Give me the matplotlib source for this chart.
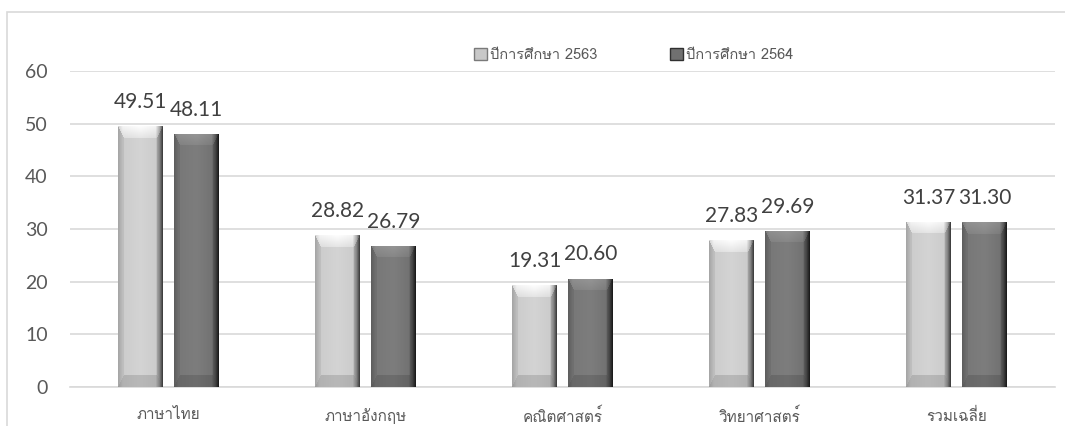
import numpy as np
import matplotlib
matplotlib.use("Agg")
import matplotlib.pyplot as plt
from matplotlib import font_manager, ft2font
from matplotlib.patches import Patch, Rectangle

categories = ["ภาษาไทย", "ภาษาอังกฤษ", "คณิตศาสตร์", "วิทยาศาสตร์", "รวมเฉลี่ย"]
series_names = ["ปีการศึกษา 2563", "ปีการศึกษา 2564"]
scores_2563 = [49.51, 28.82, 19.31, 27.83, 31.37]
scores_2564 = [48.11, 26.79, 20.60, 29.69, 31.30]
yticks = [0, 10, 20, 30, 40, 50, 60]


def find_thai_font():
    # first installed font that has Thai glyphs
    for f in font_manager.fontManager.ttflist:
        try:
            if 0x0E20 in ft2font.FT2Font(f.fname).get_charmap():
                return f.name
        except Exception:
            continue
    return None


thai = find_thai_font()
thai_family = [thai, "DejaVu Sans"] if thai else ["DejaVu Sans"]
num_family = ["Lato", "DejaVu Sans"]

# face gradients (left -> right)
light_profile = ([0, 0.1, 0.5, 0.84, 0.93, 1.0], [0.70, 0.80, 0.83, 0.80, 0.58, 0.28])
dark_profile = ([0, 0.1, 0.5, 0.84, 0.93, 1.0], [0.40, 0.47, 0.49, 0.45, 0.30, 0.12])


def bevel_image(h, w, profile, side=6, top=12):
    yy, xx = np.mgrid[0:h, 0:w].astype(float)
    top = min(top, h / 2)
    dl = (xx + 0.5) / side
    dr = (w - xx - 0.5) / side
    dt = (yy + 0.5) / top
    db = (h - yy - 0.5) / top
    base = np.interp(xx / max(w - 1, 1), profile[0], profile[1])
    mult = np.ones_like(base)
    dmin = np.minimum.reduce([dl, dr, dt, db])
    inside = dmin <= 1
    mult[inside & (dl == dmin)] = 0.93
    mult[inside & (dr == dmin)] = 0.9
    mult[inside & (db == dmin)] = 0.87
    top_mask = inside & (dt == dmin)
    mult[top_mask] = 1.2 - 0.12 * dt[top_mask]
    img = np.clip(base * mult, 0, 1)
    return np.dstack([img, img, img])


fig = plt.figure(figsize=(10.65, 4.26), dpi=100)
fig.subplots_adjust(left=0.0657, right=0.9906, bottom=0.0915, top=0.8333)
ax = fig.add_subplot(111)
ax.set_xlim(-0.5, len(categories) - 0.5)
ax.set_ylim(0, 60)

# outer chart frame
fig.patches.append(Rectangle((0.0066, -0.2), 1.2, 0.9718 + 0.2, transform=fig.transFigure,
                             fill=False, edgecolor="#d9d9d9", linewidth=1.2, zorder=0))

x = np.arange(len(categories))
width = 0.225
offset = 0.142

for vals, shift, profile, col in [(scores_2563, -offset, light_profile, "#c8c8c8"),
                                  (scores_2564, offset, dark_profile, "#777777")]:
    bars = ax.bar(x + shift, vals, width, color=col, zorder=3)
    for b, v in zip(bars, vals):
        x0, x1 = b.get_x(), b.get_x() + b.get_width()
        p0 = ax.transData.transform((x0, 0))
        p1 = ax.transData.transform((x1, v))
        w_px = max(int(round(p1[0] - p0[0])), 2)
        h_px = max(int(round(p1[1] - p0[1])), 2)
        im = ax.imshow(bevel_image(h_px, w_px, profile), extent=(x0, x1, 0, v),
                       aspect="auto", zorder=4, interpolation="nearest")
        im.set_clip_path(b)
        ax.annotate(f"{v:.2f}", (b.get_x() + b.get_width() / 2, v), xytext=(0, 13),
                    textcoords="offset points", ha="center", va="baseline",
                    fontsize=15, color="#404040", family=num_family)

ax.set_xlim(-0.5, len(categories) - 0.5)
ax.set_ylim(0, 60)

ax.set_yticks(yticks)
ax.set_yticklabels([str(t) for t in yticks], fontsize=14, color="#595959", family=num_family)
ax.set_xticks(x)
ax.set_xticklabels(categories, fontsize=11, color="#595959", family=thai_family)
ax.tick_params(axis="y", length=0, pad=16)
ax.tick_params(axis="x", length=0, pad=15)
ax.grid(axis="y", color="#d9d9d9", linewidth=1.2, zorder=0)
ax.set_axisbelow(True)
for s in ["top", "right", "left"]:
    ax.spines[s].set_visible(False)
ax.spines["bottom"].set_color("#d9d9d9")
ax.spines["bottom"].set_linewidth(1.2)

handles = [Patch(facecolor="#c8c8c8", edgecolor="#7a7a7a"),
           Patch(facecolor="#707070", edgecolor="#303030")]
leg = fig.legend(handles, series_names, loc="center", bbox_to_anchor=(0.595, 0.871),
                 ncol=2, frameon=False, handlelength=0.9, handleheight=0.9,
                 handletextpad=0.2, columnspacing=5.0,
                 prop={"family": thai_family, "size": 10.5})
for t in leg.get_texts():
    t.set_color("#595959")

fig.savefig("out.png", dpi=100)
